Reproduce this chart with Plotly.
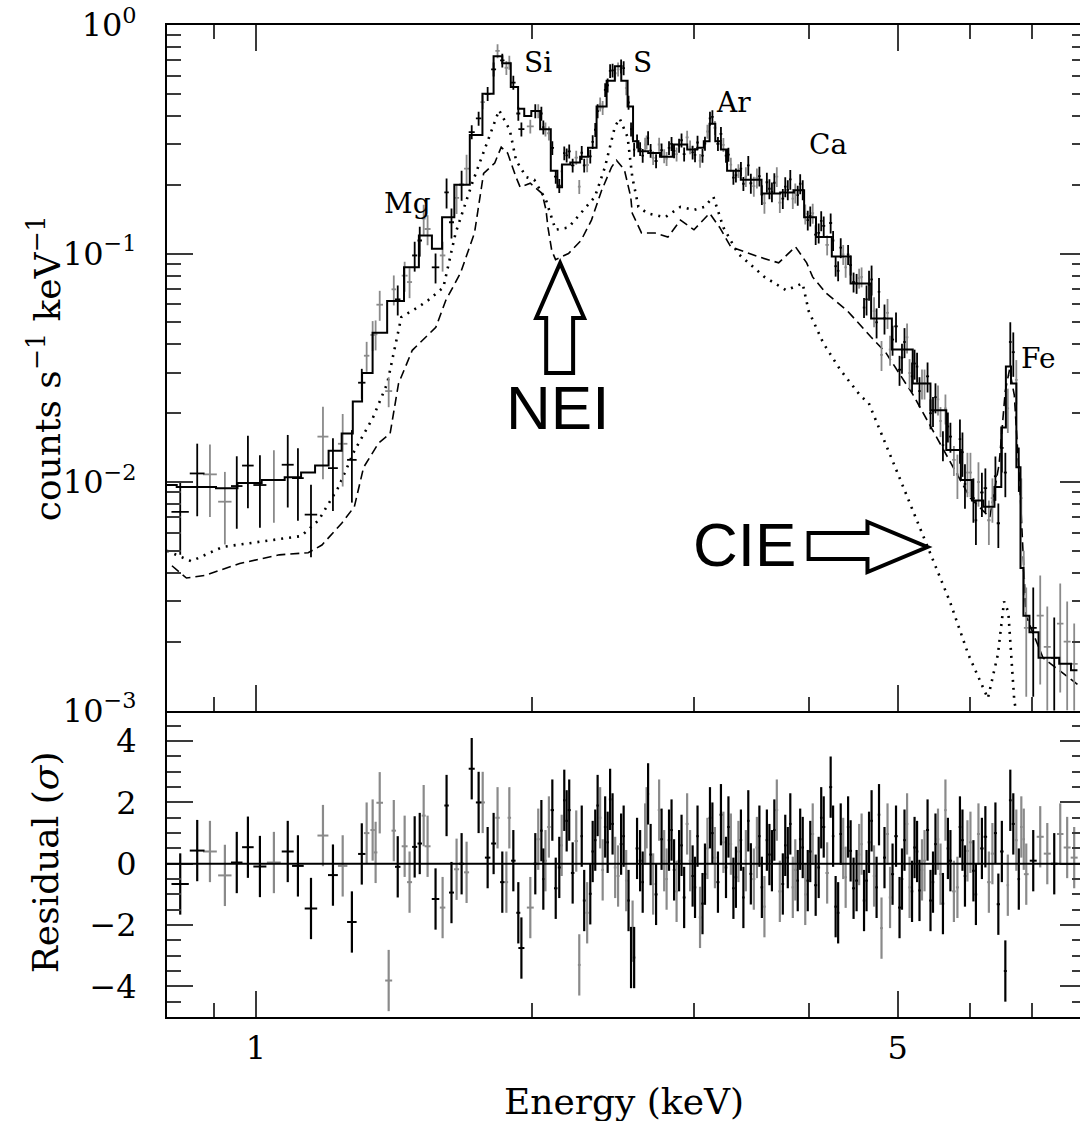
import numpy as np
import plotly.graph_objects as go

# ---------------- data ----------------
energy = [0.827,0.863,0.891,0.925,0.953,0.980,1.010,1.046,1.083,1.111,
          1.148,1.183,1.213,1.243,1.272,1.304,1.320,1.340,1.350,1.364,
          1.395,1.413,1.427,1.452,1.470,1.489,1.508,1.523,1.538,1.569,
          1.597,1.613,1.633,1.654,1.675,1.696,1.718,1.748,1.766,1.788,
          1.815,1.833,1.855,1.874,1.888,1.907,1.931,1.946,1.990,2.015,
          2.046,2.067,2.103,2.140,2.167,2.194,2.233,2.250,2.278,2.313,
          2.342,2.371,2.401,2.431,2.462,2.499,2.531,2.562,2.582,2.621,
          2.654,2.674,2.708,2.749,2.784,2.818,2.854,2.890,2.927,2.971,
          3.008,3.046,3.084,3.123,3.162,3.210,3.251,3.291,3.333,3.375,
          3.417,3.460,3.513,3.557,3.602,3.648,3.693,3.749,3.796,3.844,
          3.892,3.941,3.991,4.041,4.102,4.154,4.227,4.280,4.335,4.389,
          4.444,4.511,4.568,4.625,4.684,4.743,4.802,4.875,4.937,5.024,
          5.087,5.152,5.217,5.282,5.349,5.430,5.498,5.568,5.637,5.708,
          5.809,5.883,5.957,6.047,6.124,6.231,6.342,6.437,6.551,6.633,
          6.734,6.819,6.904,7.026,7.150,7.278,7.406,7.518,7.650,7.786]

counts = [0.0074,0.0109,0.0108,0.0082,0.0096,0.0118,0.0097,0.0102,0.0119,0.0104,
          0.0072,0.0158,0.0115,0.0147,0.0125,0.0272,0.0357,0.044,0.0443,0.0597,
          0.025,0.0697,0.063,0.080,0.075,0.098,0.114,0.142,0.128,0.087,
          0.098,0.185,0.137,0.175,0.20,0.235,0.34,0.39,0.46,0.50,
          0.64,0.77,0.70,0.65,0.685,0.56,0.41,0.35,0.36,0.42,
          0.41,0.35,0.29,0.198,0.275,0.28,0.263,0.196,0.243,0.266,
          0.348,0.45,0.52,0.63,0.615,0.66,0.53,0.35,0.285,0.287,
          0.30,0.32,0.262,0.30,0.267,0.29,0.281,0.297,0.272,0.292,
          0.27,0.255,0.303,0.39,0.355,0.334,0.268,0.245,0.22,0.235,
          0.217,0.203,0.214,0.181,0.205,0.186,0.217,0.174,0.19,0.174,
          0.18,0.19,0.14,0.15,0.123,0.132,0.136,0.088,0.106,0.087,
          0.089,0.074,0.079,0.063,0.077,0.05,0.036,0.055,0.042,0.031,
          0.041,0.030,0.033,0.025,0.027,0.020,0.0235,0.0185,0.021,0.0158,
          0.0108,0.0135,0.011,0.0085,0.010,0.0094,0.0085,0.0066,0.011,0.041,
          0.028,0.0085,0.0023,0.0023,0.0026,0.0019,0.0017,0.0024,0.0020,0.0016]

resid = [-0.66,0.43,0.40,-0.38,0.04,0.54,-0.09,0.04,0.40,-0.07,
         -1.46,0.92,-0.37,-0.07,-1.90,0.32,1.00,1.10,0.37,1.99,
         -3.81,1.08,-0.10,0.57,-0.60,0.55,0.66,1.57,0.57,-1.15,
         -1.43,1.90,-0.94,-0.18,0.00,-0.28,3.10,2.00,2.00,0.20,
         0.66,1.50,-0.60,-0.60,1.50,0.10,-1.60,-2.75,-1.43,0.00,
         1.08,0.10,1.75,-0.12,2.07,1.75,0.74,-3.30,-1.20,-0.98,
         0.77,1.50,1.20,2.10,-0.12,0.64,-0.55,-3.06,-3.06,0.10,
         0.97,2.28,-0.66,1.75,0.10,0.77,-0.20,0.10,-1.10,0.10,
         -0.77,-1.75,-0.34,1.50,0.20,1.60,-0.12,0.64,-0.44,0.77,
         0.10,-0.33,0.53,-0.77,0.77,0.10,1.75,-0.66,0.20,-0.77,
         -0.55,0.53,-0.55,0.97,-0.12,1.20,2.50,-1.40,0.97,-0.44,
         0.42,-0.55,0.64,-0.55,1.40,-0.77,-2.10,0.97,-0.34,-1.43,
         0.77,-0.77,0.53,-0.87,0.10,-1.20,0.64,-0.34,1.75,0.10,
         -0.77,0.77,0.42,-0.23,0.97,0.88,0.33,-1.32,-3.50,2.07,
         0.77,1.20,-0.34,0.10,0.88,0.33,0.00,0.97,0.53,0.20]

# detector of each bin: K = black set, G = grey set
detector = ("KKGGKKKGKK" "KGKGKKGGGG" "GGKGGKKGGK" "GKKGKGKKGK" "KGKGGKKKGK"
            "KGKKKKGGKK" "KGKKGKGKKK" "GKGGGKKKKG" "KGKKGKKGKK" "GKGKKKGKKG"
            "KKKGKKKKKG" "KKGKKKGGKK" "KGKKGKKGGK" "GKGKGKGKKK" "GGGKGGKGGG")

# further bins in the dense 2-7 keV part
energy_extra = [2.030,2.056,2.085,2.121,2.153,2.180,2.213,2.264,2.295,2.327,
                2.356,2.386,2.416,2.446,2.480,2.515,2.546,2.572,2.601,2.638,
                2.664,2.691,2.728,2.766,2.801,2.836,2.872,2.908,2.949,2.990,
                3.027,3.065,3.103,3.142,3.186,3.230,3.271,3.312,3.354,3.396,
                3.438,3.486,3.535,3.580,3.625,3.670,3.721,3.772,3.820,3.868,
                3.916,3.966,4.016,4.071,4.128,4.190,4.253,4.307,4.362,4.416,
                4.477,4.540,4.596,4.654,4.713,4.772,4.838,4.906,4.980,5.055,
                5.120,5.184,5.250,5.315,5.390,5.464,5.533,5.602,5.672,5.758,
                5.846,5.920,6.002,6.085,6.177,6.286,6.390,6.494,6.592,6.683,
                6.776,6.861]
counts_extra = [0.42,0.357,0.336,0.217,0.229,0.269,0.243,0.276,0.244,0.308,
                0.42,0.434,0.545,0.633,0.64,0.648,0.458,0.338,0.31,0.268,
                0.307,0.282,0.254,0.283,0.26,0.302,0.272,0.313,0.322,0.277,
                0.306,0.268,0.342,0.396,0.302,0.299,0.271,0.215,0.23,0.202,
                0.243,0.197,0.218,0.166,0.192,0.204,0.167,0.196,0.211,0.184,
                0.202,0.149,0.146,0.121,0.139,0.109,0.114,0.084,0.099,0.099,
                0.075,0.078,0.058,0.073,0.056,0.068,0.052,0.038,0.048,0.035,
                0.043,0.029,0.032,0.027,0.029,0.0205,0.023,0.0145,0.0175,0.0125,
                0.0154,0.0098,0.011,0.0068,0.009,0.0068,0.0106,0.0141,0.021,0.037,
                0.0116,0.0041]
resid_extra = [0.8,-0.5,1.2,-0.8,0.6,1.4,-0.3,0.9,-1.6,0.4,
               1.9,-0.2,0.7,1.3,-0.4,0.9,-1.2,-2.2,0.5,-0.6,
               1.5,0.3,-1.0,0.8,-0.5,1.1,-0.9,0.6,1.3,-0.4,
               0.9,-1.3,0.5,1.0,-0.6,0.7,1.2,-0.8,0.4,-1.1,
               1.4,-0.5,0.9,-1.4,0.3,1.1,-0.9,0.6,1.3,-0.2,
               0.8,-1.0,0.4,-0.7,1.5,-0.3,0.9,-1.6,0.5,1.2,
               -0.8,0.3,-1.2,0.7,-0.4,1.6,0.2,-1.1,0.9,-0.5,
               1.3,-0.9,0.4,-0.2,1.1,-0.6,0.8,-1.3,0.5,-0.9,
               1.2,-0.4,0.7,-1.0,0.5,-0.6,1.0,0.4,-0.7,1.3,
               -0.5,0.8]
detector_extra = ("GKGKGKKKGK" "KGKKGKKGKK" "GKKKGKGKGK" "KKGKKGKKGK"
                  "KGKGKKGKKG" "KGKKKGKKGK" "KGKKGKKGKK" "GKKGKKGKKG"
                  "KKGKKGKKGK" "KG")

# relative 1-sigma count errors by energy band
err_band_edges = [0.8, 1.3, 1.7, 3.4, 4.6, 5.8, 6.9, 8.0]
err_band_frac = [0.35, 0.15, 0.07, 0.10, 0.15, 0.22, 0.50]

# total model
model_E = [0.80,0.84,0.88,0.93,0.98,1.05,1.10,1.14,1.18,1.22,
           1.26,1.29,1.32,1.36,1.42,1.48,1.53,1.58,1.61,1.68,
           1.74,1.79,1.84,1.87,1.92,1.94,1.98,2.01,2.07,2.12,
           2.14,2.17,2.23,2.28,2.32,2.38,2.44,2.48,2.52,2.56,
           2.59,2.63,2.72,2.79,2.90,3.00,3.05,3.10,3.14,3.19,
           3.23,3.29,3.46,3.65,3.80,3.91,4.00,4.15,4.33,4.56,
           4.80,5.06,5.33,5.53,5.77,5.95,6.10,6.30,6.45,6.52,
           6.60,6.69,6.78,6.83,6.88,7.04,7.20,7.40,7.60,7.85]
model_C = [0.0097,0.0095,0.0095,0.0094,0.0099,0.0102,0.0105,0.011,0.0118,0.0137,
           0.0163,0.0225,0.030,0.045,0.062,0.087,0.12,0.105,0.144,0.20,
           0.33,0.50,0.73,0.68,0.535,0.43,0.40,0.42,0.35,0.23,
           0.195,0.245,0.25,0.265,0.29,0.44,0.57,0.66,0.57,0.44,
           0.31,0.28,0.275,0.265,0.30,0.285,0.29,0.31,0.37,0.31,
           0.285,0.23,0.21,0.183,0.185,0.189,0.144,0.118,0.097,0.074,
           0.052,0.038,0.027,0.0206,0.0138,0.0102,0.0083,0.0078,0.0095,0.0173,
           0.032,0.027,0.0116,0.0042,0.0026,0.0022,0.0017,0.0017,0.0016,0.0015]

# CIE component (dotted)
cie_E = [0.80,0.85,0.92,1.05,1.12,1.17,1.23,1.28,1.34,1.39,
         1.44,1.50,1.54,1.60,1.65,1.72,1.79,1.84,1.89,1.92,
         1.97,2.01,2.07,2.12,2.19,2.26,2.34,2.40,2.46,2.49,
         2.54,2.57,2.61,2.67,2.79,2.90,3.00,3.08,3.15,3.23,
         3.35,3.58,3.78,3.94,4.00,4.15,4.33,4.56,4.65,4.97,
         5.37,5.70,5.97,6.27,6.43,6.53,6.60,6.70,6.80]
cie_C = [0.005,0.0045,0.0052,0.0056,0.0058,0.0068,0.0095,0.0137,0.019,0.027,
         0.0527,0.058,0.0624,0.071,0.123,0.203,0.314,0.424,0.347,0.256,
         0.216,0.21,0.171,0.127,0.13,0.15,0.177,0.239,0.358,0.39,
         0.323,0.216,0.16,0.15,0.144,0.16,0.155,0.16,0.177,0.13,
         0.1,0.079,0.069,0.074,0.056,0.0405,0.031,0.0237,0.0222,0.0116,
         0.0054,0.003,0.00176,0.00113,0.00176,0.003,0.0027,0.0011,0.0008]

# NEI component (dashed)
nei_E = [0.81,0.84,0.88,0.96,1.06,1.14,1.18,1.24,1.28,1.31,
         1.36,1.40,1.43,1.48,1.57,1.61,1.67,1.73,1.77,1.82,
         1.85,1.88,1.92,1.94,1.99,2.05,2.07,2.08,2.10,2.12,
         2.19,2.26,2.32,2.38,2.44,2.47,2.52,2.56,2.57,2.63,
         2.72,2.81,2.90,3.00,3.12,3.20,3.29,3.52,3.71,3.87,
         3.98,4.04,4.18,4.41,4.68,4.85,5.20,5.60,6.00,6.30,
         6.45,6.55,6.62,6.70,6.80,6.90,7.20,7.50,7.85]
nei_C = [0.0043,0.0038,0.0039,0.0044,0.0048,0.0049,0.0053,0.0066,0.0078,0.0116,
         0.0148,0.0163,0.027,0.0377,0.0475,0.0624,0.082,0.123,0.224,0.249,
         0.292,0.275,0.216,0.195,0.203,0.183,0.155,0.13,0.103,0.094,
         0.1,0.114,0.14,0.189,0.239,0.256,0.232,0.177,0.15,0.123,
         0.123,0.118,0.14,0.127,0.15,0.13,0.107,0.097,0.091,0.107,
         0.091,0.079,0.067,0.056,0.043,0.037,0.024,0.014,0.0085,0.007,
         0.012,0.025,0.031,0.024,0.009,0.0026,0.0017,0.0015,0.0013]

line_labels = ["Mg", "Si", "S", "Ar", "Ca", "Fe"]

# ---------------- geometry / style ----------------
# The frame's right edge lies just outside the 1080 px view, as in the original.
W, H = 1090, 1121
L, R, T, B = 167, 1088, 25, 1017
PW, PH = R - L, B - T
SERIF = "DejaVu Serif"
SANS = "Liberation Sans"
GREY = "#8a8a8a"
TICKC = "#3a3a3a"


def px(x):
    return (x - L) / PW


def py(y):
    return (B - y) / PH


split = py(710.5)
x0 = np.log10(0.8)
x1 = x0 + PW / 920.0

E_all = np.array(energy + energy_extra)
order = np.argsort(E_all)
E = E_all[order]
Cn = np.array(counts + counts_extra)[order]
Rs = np.array(resid + resid_extra)[order]
flags = np.array(list(detector + detector_extra))[order]
ex = np.gradient(E) / 2.0
frac = np.array([err_band_frac[min(np.searchsorted(err_band_edges, e) - 1, len(err_band_frac) - 1)] for e in E])
sig = Cn * frac
isK = flags == "K"

fig = go.Figure()

# model components (top panel)
fig.add_trace(go.Scatter(x=cie_E, y=cie_C, mode="lines", line=dict(color="black", width=2.6, dash="2px,6px"),
                         xaxis="x2", yaxis="y2", hoverinfo="skip"))
fig.add_trace(go.Scatter(x=nei_E, y=nei_C, mode="lines", line=dict(color="black", width=1.6, dash="9px,5px"),
                         xaxis="x2", yaxis="y2", hoverinfo="skip"))

for flag, col in (("G", GREY), ("K", "black")):
    m = isK if flag == "K" else ~isK
    fig.add_trace(go.Scatter(
        x=E[m], y=Cn[m], mode="markers", marker=dict(size=1, color=col),
        error_y=dict(type="data", array=sig[m], width=0, thickness=1.8, color=col),
        error_x=dict(type="data", array=ex[m], width=0, thickness=1.8, color=col),
        xaxis="x2", yaxis="y2", hoverinfo="skip"))

fig.add_trace(go.Scatter(x=model_E, y=model_C, mode="lines", line=dict(color="black", width=2, shape="hvh"),
                         xaxis="x2", yaxis="y2", hoverinfo="skip"))

# residuals (bottom panel)
for flag, col in (("G", GREY), ("K", "black")):
    m = isK if flag == "K" else ~isK
    fig.add_trace(go.Scatter(
        x=E[m], y=Rs[m], mode="markers", marker=dict(size=1, color=col),
        error_y=dict(type="constant", value=1.0, width=0, thickness=2.2, color=col),
        error_x=dict(type="data", array=ex[m], width=0, thickness=2, color=col),
        xaxis="x", yaxis="y", hoverinfo="skip"))

tickfont = dict(family=SERIF, size=32, color="black")
minor_x = dict(tickvals=[0.8, 0.9, 2, 3, 4, 6, 7], ticks="inside", ticklen=14, tickwidth=2, tickcolor=TICKC, showgrid=False)
common_x = dict(type="log", range=[x0, x1], tickvals=[1, 5], ticktext=["1", "5"], ticks="inside", ticklen=26,
                tickwidth=2, tickcolor=TICKC, showline=True, linecolor="black", linewidth=2, showgrid=False,
                zeroline=False, tickfont=tickfont, minor=minor_x)

fig.update_layout(
    width=W, height=H, margin=dict(l=L, r=W - R, t=T, b=H - B),
    paper_bgcolor="white", plot_bgcolor="white", showlegend=False,
    xaxis=dict(**common_x, domain=[0, 1], anchor="y", mirror=False, ticklabelstandoff=2),
    xaxis2=dict(**common_x, domain=[0, 1], anchor="y2", mirror="ticks", showticklabels=False),
    yaxis=dict(domain=[0, split], anchor="x", range=[-5, 5], tickvals=[-4, -2, 0, 2, 4],
               ticktext=["\u22124", "\u22122", "0", "2", "4"], ticks="inside", ticklen=26, tickwidth=2,
               tickcolor=TICKC, showline=True, linecolor="black", linewidth=2, mirror="ticks", showgrid=False,
               zeroline=False, tickfont=tickfont, ticklabelstandoff=22,
               minor=dict(dtick=0.5, ticks="inside", ticklen=14, tickwidth=2, tickcolor=TICKC, showgrid=False)),
    yaxis2=dict(domain=[split, 1], anchor="x2", type="log", range=[-3, 0],
                tickvals=[0.001, 0.01, 0.1, 1],
                ticktext=["10<sup>\u22123</sup>", "10<sup>\u22122</sup>", "10<sup>\u22121</sup>", "10<sup>0</sup>"],
                ticks="inside", ticklen=26, tickwidth=2, tickcolor=TICKC, showline=True, linecolor="black",
                linewidth=2, mirror="ticks", showgrid=False, zeroline=False, tickfont=tickfont,
                ticklabelstandoff=22,
                minor=dict(tickvals=[m * 10.0 ** d for d in (-3, -2, -1) for m in range(2, 10)],
                           ticks="inside", ticklen=14, tickwidth=2, tickcolor=TICKC, showgrid=False)),
)

# zero line of residuals
fig.add_shape(type="line", xref="x domain", x0=0, x1=1, yref="y", y0=0, y1=0, line=dict(color="black", width=2))

# block arrows (pixel outlines -> paper)
def path(points):
    return "M " + " L ".join(f"{px(a):.5f},{py(b):.5f}" for a, b in points) + " Z"

nei_arrow = [(561, 263), (585, 318), (574, 318), (574, 373), (547, 373), (547, 318), (537, 318)]
cie_arrow = [(810, 533), (869, 533), (869, 522), (929, 547), (869, 572), (869, 559), (810, 559)]
for pts in (nei_arrow, cie_arrow):
    fig.add_shape(type="path", path=path(pts), xref="paper", yref="paper",
                  line=dict(color="black", width=4), fillcolor="rgba(255,255,255,0)")

ann = []
label_pos = {"Mg": (408, 203), "Si": (539, 62), "S": (644, 62), "Ar": (735, 103), "Ca": (829, 144), "Fe": (1040, 358)}
for lab in line_labels:
    a, b = label_pos[lab]
    ann.append(dict(text=lab, x=px(a), y=py(b), xref="paper", yref="paper", showarrow=False,
                    xanchor="center", yanchor="middle", font=dict(family=SERIF, size=28, color="black")))
ann.append(dict(text="NEI", x=px(558), y=py(407), xref="paper", yref="paper", showarrow=False,
                xanchor="center", yanchor="middle", font=dict(family=SANS, size=62, color="black")))
ann.append(dict(text="CIE", x=px(746), y=py(544), xref="paper", yref="paper", showarrow=False,
                xanchor="center", yanchor="middle", font=dict(family=SANS, size=62, color="black")))
ann.append(dict(text="counts s<sup>\u22121</sup> keV<sup>\u22121</sup>", x=px(45), y=py(368), xref="paper", yref="paper",
                showarrow=False, textangle=-90, xanchor="center", yanchor="middle",
                font=dict(family=SERIF, size=36, color="black")))
ann.append(dict(text="Residual (<i>\u03c3</i>)", x=px(45), y=py(862), xref="paper", yref="paper",
                showarrow=False, textangle=-90, xanchor="center", yanchor="middle",
                font=dict(family=SERIF, size=36, color="black")))
ann.append(dict(text="Energy (keV)", x=px(625), y=py(1101), xref="paper", yref="paper",
                showarrow=False, xanchor="center", yanchor="middle",
                font=dict(family=SERIF, size=36, color="black")))
fig.update_layout(annotations=ann)

fig.write_html("out.html", config={"displayModeBar": False},
               post_script="document.body.style.margin='0';document.body.style.overflow='hidden';")
